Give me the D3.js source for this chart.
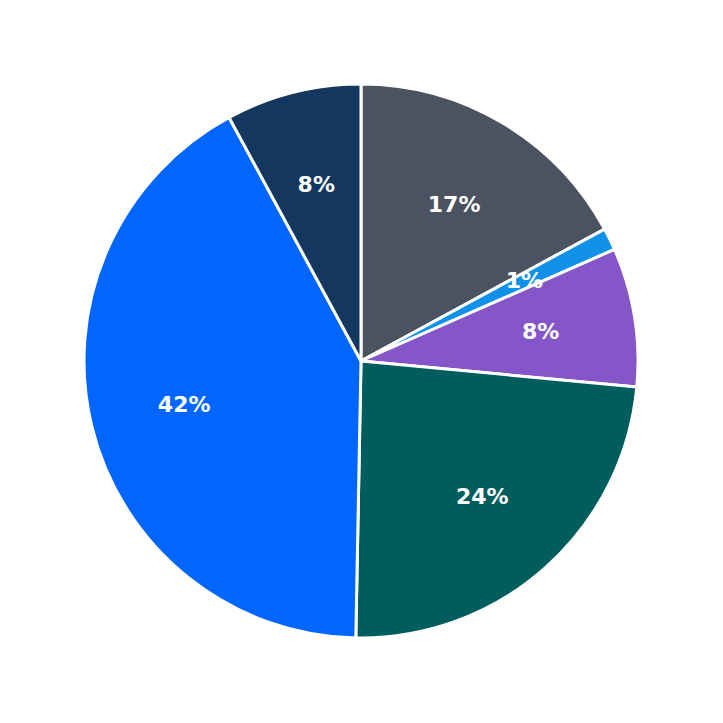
<!DOCTYPE html>
<html>
<head>
<meta charset="utf-8">
<script src="https://cdn.jsdelivr.net/npm/d3@7"></script>
<style>
  body { margin: 0; background: #fff; }
</style>
</head>
<body>
<div id="chart"></div>
<script>
const categories = ["A", "B", "C", "D", "E", "F"]
const values = [17.1, 1.3, 8.1, 23.8, 41.8, 7.9]
const colors = ["#4b5361", "#1192e8", "#8456c8", "#005d5d", "#0066ff", "#14375f"]

const width = 723
const height = 723
const radius = 277

const svg = d3.select("#chart").append("svg").attr("width", width).attr("height", height)
const g = svg.append("g").attr("transform", `translate(361,361)`)

const pie = d3.pie().sort(null).value((d) => d.value)
const data = categories.map((c, i) => ({ name: c, value: values[i], color: colors[i] }))
const arcs = pie(data)
const total = d3.sum(values)

const arc = d3.arc().innerRadius(0).outerRadius(radius)
const labelArc = d3.arc().innerRadius(182).outerRadius(182)

g.selectAll("path")
  .data(arcs)
  .enter()
  .append("path")
  .attr("d", arc)
  .attr("fill", (d) => d.data.color)
  .attr("stroke", "#fff")
  .attr("stroke-width", 3)
  .attr("stroke-linejoin", "round")

g.selectAll("text")
  .data(arcs)
  .enter()
  .append("text")
  .attr("transform", (d) => `translate(${labelArc.centroid(d)})`)
  .attr("text-anchor", "middle")
  .attr("dominant-baseline", "central")
  .attr("font-family", "DejaVu Sans, sans-serif")
  .attr("font-weight", "bold")
  .attr("font-size", 22)
  .attr("fill", "#fff")
  .text((d) => Math.round((d.data.value / total) * 100) + "%")
</script>
</body>
</html>
